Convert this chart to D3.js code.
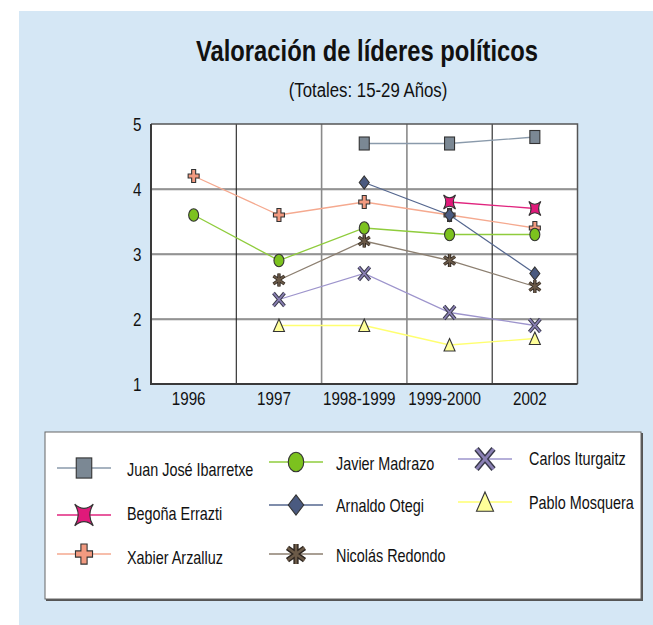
<!DOCTYPE html>
<html>
<head>
<meta charset="utf-8">
<script src="https://cdn.jsdelivr.net/npm/d3@7"></script>
<style>
  body { margin: 0; background: #fff; }
  text { font-family: "Liberation Sans", Arial, sans-serif; fill: #111; }
</style>
</head>
<body>
<div id="chart"></div>
<script>
// ── Data ───────────────────────────────────────────────────
const categories = ["1996", "1997", "1998-1999", "1999-2000", "2002"];
const yTicks = [1, 2, 3, 4, 5];

const ibarretxe = [null, null, 4.7, 4.7, 4.8];
const errazti   = [null, null, null, 3.8, 3.7];
const arzalluz  = [4.2, 3.6, 3.8, 3.6, 3.4];
const madrazo   = [3.6, 2.9, 3.4, 3.3, 3.3];
const otegi     = [null, null, 4.1, 3.6, 2.7];
const redondo   = [null, 2.6, 3.2, 2.9, 2.5];
const iturgaitz = [null, 2.3, 2.7, 2.1, 1.9];
const mosquera  = [null, 1.9, 1.9, 1.6, 1.7];

const series = [
  { name: "Juan José Ibarretxe", values: ibarretxe, line: "#8a9aab", fill: "#7b8894", shape: "square" },
  { name: "Begoña Errazti",      values: errazti,   line: "#e0247e", fill: "#e0197a", shape: "star4" },
  { name: "Xabier Arzalluz",     values: arzalluz,  line: "#f5a98f", fill: "#f29a80", shape: "plus" },
  { name: "Javier Madrazo",      values: madrazo,   line: "#8fcc3c", fill: "#7cc21e", shape: "ellipse" },
  { name: "Arnaldo Otegi",       values: otegi,     line: "#55678f", fill: "#4a5a80", shape: "diamond" },
  { name: "Nicolás Redondo",     values: redondo,   line: "#8c7f70", fill: "#6b5a48", shape: "asterisk" },
  { name: "Carlos Iturgaitz",    values: iturgaitz, line: "#9d94cc", fill: "#8a80b4", shape: "x" },
  { name: "Pablo Mosquera",      values: mosquera,  line: "#ffff70", fill: "#ffff99", shape: "triangle" }
];

const W = 653, H = 625;
const FONT = "Liberation Sans, Arial, sans-serif";
const svg = d3.select("#chart").append("svg").attr("width", W).attr("height", H);

// light blue panel
svg.append("rect").attr("x", 19).attr("y", 11).attr("width", W - 19).attr("height", H - 11)
  .attr("fill", "#d5e7f5");

// condensed text helper
function ctext(g, x, y, str, size, anchor, weight, sx) {
  return g.append("text")
    .attr("transform", `translate(${x},${y}) scale(${sx || 0.8},1)`)
    .attr("font-size", size)
    .attr("font-family", FONT)
    .attr("font-weight", weight || "normal")
    .attr("text-anchor", anchor || "start")
    .text(str);
}

ctext(svg, 367, 61, "Valoración de líderes políticos", 29, "middle", "bold", 0.82);
ctext(svg, 368, 97, "(Totales: 15-29 Años)", 21, "middle", "normal", 0.8);

// ── Scales ────────────────────────────────────────────────
const x0 = 151, x1 = 577.5, yT = 124, yB = 384;
const xScale = d3.scaleBand().domain(categories).range([x0, x1]);
const yScale = d3.scaleLinear().domain([1, 5]).range([yB, yT]);
const cx = c => xScale(c) + xScale.bandwidth() / 2;

// plot background
svg.append("rect").attr("x", x0).attr("y", yT).attr("width", x1 - x0).attr("height", yB - yT)
  .attr("fill", "#fff");

// ── Grid ──────────────────────────────────────────────────
const grid = svg.append("g");
yTicks.slice(1, -1).forEach(t => {
  grid.append("line").attr("x1", x0).attr("x2", x1)
    .attr("y1", yScale(t) + 1).attr("y2", yScale(t) + 1)
    .attr("stroke", "#c4c4c4").attr("stroke-width", 1);
  grid.append("line").attr("x1", x0).attr("x2", x1)
    .attr("y1", yScale(t)).attr("y2", yScale(t))
    .attr("stroke", "#444").attr("stroke-width", 1.2);
});
categories.slice(1).forEach((c, i) => {
  const gx = xScale(c);
  const grey = i === 1 || i === 2;
  grid.append("line").attr("x1", gx).attr("x2", gx).attr("y1", yT).attr("y2", yB)
    .attr("stroke", grey ? "#8a8a8a" : "#222").attr("stroke-width", grey ? 1.6 : 1.1);
});

// frame
grid.append("path")
  .attr("d", `M${x0},${yT}H${x1}V${yB}`)
  .attr("fill", "none").attr("stroke", "#555").attr("stroke-width", 1.5);
grid.append("path")
  .attr("d", `M${x0},${yT}V${yB}H${x1}`)
  .attr("fill", "none").attr("stroke", "#3a3a3a").attr("stroke-width", 2);

// ── Axes ──────────────────────────────────────────────────
svg.append("g").attr("transform", `translate(${x0},0)`)
  .call(d3.axisLeft(yScale).tickValues(yTicks).tickFormat(d3.format("d")).tickSize(0).tickPadding(12))
  .call(ax => ax.select(".domain").remove())
  .selectAll("text")
    .attr("font-size", 19).attr("font-family", FONT)
    .attr("fill", "#111")
    .attr("transform", "scale(0.8,1)");

svg.append("g").attr("transform", `translate(-5,${yB})`)
  .call(d3.axisBottom(xScale).tickSize(0).tickPadding(8))
  .call(ax => ax.select(".domain").remove())
  .selectAll("text")
    .attr("font-size", 19).attr("font-family", FONT)
    .attr("fill", "#111")
    .attr("transform", "scale(0.8,1)");

// ── Marker shapes ────────────────────────────────────────
function drawMarker(g, s, x, y, k) {
  const m = g.append("g").attr("transform", `translate(${x},${y}) scale(${k})`);
  const st = { stroke: "#333", "stroke-width": 1 / k * 1.1 };
  const add = el => { Object.entries(st).forEach(([a, v]) => el.attr(a, v)); return el; };
  switch (s.shape) {
    case "square":
      add(m.append("rect").attr("x", -5).attr("y", -6.5).attr("width", 10).attr("height", 13).attr("fill", s.fill));
      break;
    case "ellipse":
      add(m.append("ellipse").attr("rx", 5).attr("ry", 6.3).attr("fill", s.fill));
      break;
    case "diamond":
      add(m.append("path").attr("d", "M0,-6.5L5,0L0,6.5L-5,0Z").attr("fill", s.fill));
      break;
    case "plus":
      add(m.append("path").attr("d", "M-2,-6.5H2V-2H5.5V2H2V6.5H-2V2H-5.5V-2H-2Z").attr("fill", s.fill));
      break;
    case "star4":
      add(m.append("path").attr("d", "M-6,-7Q0,-1.5 6,-7Q1.5,0 6,7Q0,1.5 -6,7Q-1.5,0 -6,-7Z").attr("fill", s.fill));
      break;
    case "triangle":
      add(m.append("path").attr("d", "M0,-6.5L5.5,6L-5.5,6Z").attr("fill", s.fill));
      break;
    case "x": {
      const d = "M-5.5,-6.5L5.5,6.5M5.5,-6.5L-5.5,6.5";
      m.append("path").attr("d", d).attr("stroke", "#3a3a4a").attr("stroke-width", 3.6).attr("fill", "none");
      m.append("path").attr("d", d).attr("stroke", s.fill).attr("stroke-width", 1.8).attr("fill", "none");
      break;
    }
    case "asterisk": {
      const d = "M0,-6.5V6.5M-5.5,-4L5.5,4M5.5,-4L-5.5,4";
      m.append("path").attr("d", d).attr("stroke", "#2e2620").attr("stroke-width", 3.4).attr("fill", "none");
      m.append("path").attr("d", d).attr("stroke", s.fill).attr("stroke-width", 1.6).attr("fill", "none");
      break;
    }
  }
}

// ── Lines and markers ────────────────────────────────────
const lineGen = d3.line()
  .defined(d => d.v !== null)
  .x(d => cx(d.c))
  .y(d => yScale(d.v));

const plot = svg.append("g");
series.forEach(s => {
  const pts = categories.map((c, i) => ({ c, v: s.values[i] }));
  plot.append("path").attr("d", lineGen(pts))
    .attr("fill", "none").attr("stroke", s.line).attr("stroke-width", 1.3);
});
series.forEach(s => {
  categories.forEach((c, i) => {
    if (s.values[i] !== null) drawMarker(plot, s, cx(c), yScale(s.values[i]), 1);
  });
});

// ── Legend ───────────────────────────────────────────────
svg.append("rect").attr("x", 46).attr("y", 433).attr("width", 597).attr("height", 168)
  .attr("fill", "#555");
svg.append("rect").attr("x", 45).attr("y", 432).attr("width", 596).attr("height", 167)
  .attr("fill", "#fff").attr("stroke", "#666").attr("stroke-width", 1);

const legCols = [
  { mx: 84,  tx: 127, rows: [468, 515, 554], texts: [476, 520, 564] },
  { mx: 296, tx: 336, rows: [462, 505, 554], texts: [470, 512, 562] },
  { mx: 485, tx: 529, rows: [459, 502],      texts: [465, 509] }
];
const leg = svg.append("g");
let idx = 0;
legCols.forEach(col => {
  col.rows.forEach((ry, r) => {
    const s = series[idx++];
    leg.append("line").attr("x1", col.mx - 27).attr("x2", col.mx + 27)
      .attr("y1", ry).attr("y2", ry).attr("stroke", s.line).attr("stroke-width", 1.3);
    drawMarker(leg, s, col.mx, ry, 1.55);
    ctext(leg, col.tx, col.texts[r], s.name, 18, "start", "normal", 0.8);
  });
});
</script>
</body>
</html>
